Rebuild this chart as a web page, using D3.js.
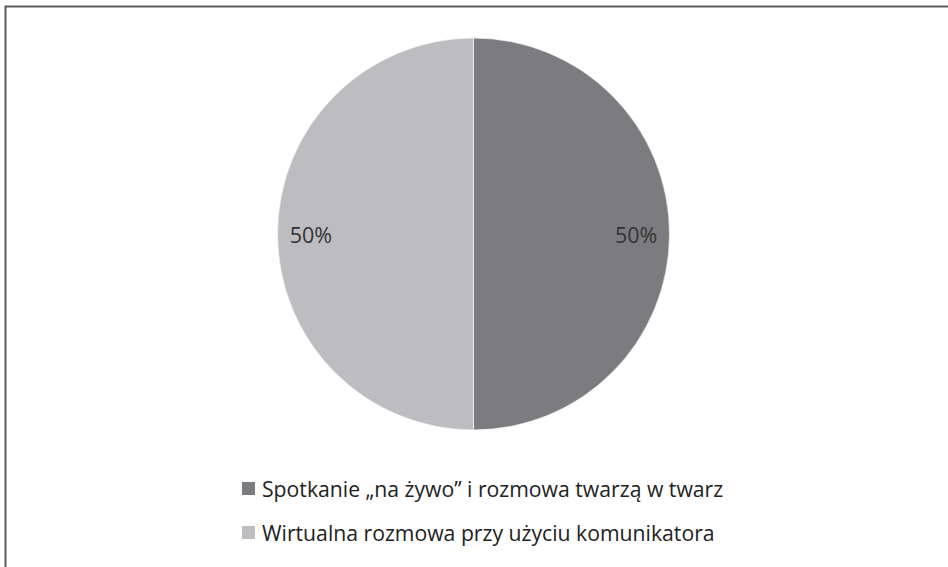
<!DOCTYPE html>
<html><head><meta charset="utf-8">
<script src="https://cdn.jsdelivr.net/npm/d3@7"></script>
<style>body{margin:0;background:#fff}svg{display:block}</style>
</head><body>
<script>
const categories = ["Spotkanie „na żywo” i rozmowa twarzą w twarz", "Wirtualna rozmowa przy użyciu komunikatora"];
const values = [50, 50];
const labels = ["50%", "50%"];
const colors = ["#7c7c80", "#bdbdc1"];

const W = 948, H = 567;
const svg = d3.select("body").append("svg").attr("width", W).attr("height", H);
svg.append("rect").attr("x", 0).attr("y", 0).attr("width", W).attr("height", H).attr("fill", "#fff");
svg.append("rect").attr("x", 5.5).attr("y", 6.5).attr("width", W + 20).attr("height", H + 20)
  .attr("fill", "none").attr("stroke", "#5a5a5a").attr("stroke-width", 2);

const font = "'Open Sans', sans-serif";
const cx = 473.5, cy = 234, r = 196;
const pie = d3.pie().sort(null).value(d => d)(values);
const arc = d3.arc().innerRadius(0).outerRadius(r);
const g = svg.append("g").attr("transform", `translate(${cx},${cy})`);
g.selectAll("path").data(pie).join("path")
  .attr("d", arc).attr("fill", (d, i) => colors[i])
  .attr("stroke", "#fff").attr("stroke-width", 0.6);

const labelArc = d3.arc().innerRadius(r * 0.83).outerRadius(r * 0.83);
g.selectAll("text").data(pie).join("text")
  .attr("x", d => labelArc.centroid(d)[0])
  .attr("y", d => labelArc.centroid(d)[1] + 9)
  .attr("text-anchor", "middle")
  .attr("font-family", font).attr("font-size", 21.5).attr("fill", "#333")
  .text((d, i) => labels[i]);

const lg = svg.append("g");
const rows = lg.selectAll("g").data(categories).join("g")
  .attr("transform", (d, i) => `translate(242,${482 + i * 44})`);
rows.append("rect").attr("width", 13).attr("height", 13).attr("fill", (d, i) => colors[i]);
rows.append("text").attr("x", 20).attr("y", 15)
  .attr("font-family", font).attr("font-size", 21.2).attr("fill", "#222")
  .text(d => d);
</script>
</body></html>
